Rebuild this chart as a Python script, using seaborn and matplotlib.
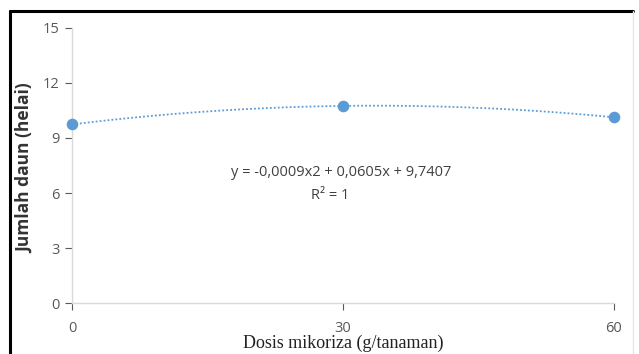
import numpy as np
import pandas as pd
import matplotlib
matplotlib.use("Agg")
import matplotlib.pyplot as plt
import seaborn as sns
from matplotlib.lines import Line2D

# data
dosis = [0, 30, 60]
jumlah_daun = [9.74, 10.75, 10.13]
x_ticks = [0, 30, 60]
y_ticks = [0, 3, 6, 9, 12, 15]

df = pd.DataFrame({"dosis": dosis, "daun": jumlah_daun})

sns.set_theme(style="white")
plt.rcParams["font.family"] = ["Open Sans", "DejaVu Sans"]

fig = plt.figure(figsize=(6.39, 3.54), dpi=100)
ax = fig.add_axes([0.1127, 0.144, 0.848, 0.777])

blue = "#5b9bd5"

# polynomial trendline (order 2) from the data
coef = np.polyfit(df["dosis"], df["daun"], 2)
xs = np.linspace(0, 60, 200)
ax.plot(xs, np.polyval(coef, xs), color=blue, linestyle=(0, (1, 1.2)), linewidth=1.3, zorder=2)

sns.scatterplot(data=df, x="dosis", y="daun", ax=ax, color=blue, s=70,
                edgecolor=blue, linewidth=0, zorder=3, clip_on=False)

ax.set_xlim(0, 60)
ax.set_ylim(0, 15)
ax.set_xticks(x_ticks)
ax.set_yticks(y_ticks)
ax.tick_params(axis="both", colors="#595959", labelsize=10.5, length=5, width=0.8,
               direction="out", bottom=True, left=True, pad=4)
ax.tick_params(axis="x", pad=8)
for s in ["top", "right"]:
    ax.spines[s].set_visible(False)
for s in ["left", "bottom"]:
    ax.spines[s].set_color("#d9d9d9")
    ax.spines[s].set_linewidth(1)

ax.set_xlabel("Dosis mikoriza (g/tanaman)", family="Liberation Serif", fontsize=13,
              color="#222222", va="center")
ax.xaxis.set_label_coords(0.5, -0.147)
ax.set_ylabel("Jumlah daun (helai)", fontsize=12.5, fontweight="bold",
              color="#333333", va="center")
ax.yaxis.set_label_coords(-0.087, 0.49)

ax.text(0.497, 0.475, "y = -0,0009x2 + 0,0605x + 9,7407", transform=ax.transAxes,
        ha="center", va="center", fontsize=10.5, color="#404040")
ax.text(0.477, 0.39, "R² = 1", transform=ax.transAxes,
        ha="center", va="center", fontsize=10.5, color="#404040")

# outer frame of the figure
fig.add_artist(Line2D([10 / 639, 633 / 639], [1 - 11 / 354, 1 - 11 / 354], color="black",
                      linewidth=2.2, transform=fig.transFigure))
fig.add_artist(Line2D([10 / 639, 10 / 639], [0, 1 - 11 / 354], color="black",
                      linewidth=2.2, transform=fig.transFigure))
fig.add_artist(Line2D([633 / 639, 633 / 639], [0, 1 - 11 / 354], color="#e6e6e6",
                      linewidth=1, transform=fig.transFigure))

fig.savefig("out.png", dpi=100)
